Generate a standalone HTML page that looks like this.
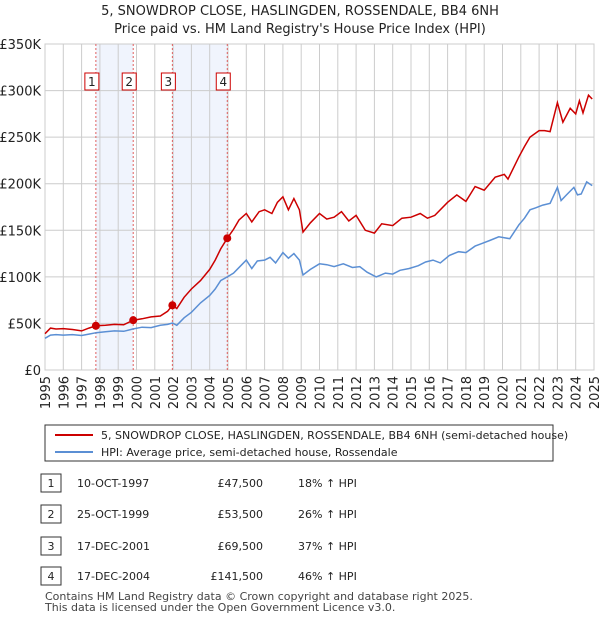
<!DOCTYPE html>
<html><head><meta charset="utf-8"><style>
body{margin:0;background:#fff;font-family:"Liberation Sans","DejaVu Sans",sans-serif;}
svg text{font-family:"DejaVu Sans","Liberation Sans",sans-serif;}
</style></head><body>
<svg id="c" width="600" height="620" viewBox="0 0 600 620" xmlns="http://www.w3.org/2000/svg">
<text x="300" y="15" text-anchor="middle" font-size="13" fill="#222">5, SNOWDROP CLOSE, HASLINGDEN, ROSSENDALE, BB4 6NH</text>
<text x="300" y="33" text-anchor="middle" font-size="13" fill="#222">Price paid vs. HM Land Registry's House Price Index (HPI)</text>
<g id="plot"></g>
<g>
<rect x="45" y="425" width="508" height="36" fill="#fff" stroke="#333"/>
<line x1="55" y1="435" x2="93" y2="435" stroke="#cc0000" stroke-width="2"/>
<text x="101" y="439" font-size="11" fill="#222">5, SNOWDROP CLOSE, HASLINGDEN, ROSSENDALE, BB4 6NH (semi-detached house)</text>
<line x1="55" y1="452" x2="93" y2="452" stroke="#5b8fd4" stroke-width="2"/>
<text x="101" y="456" font-size="11" fill="#222">HPI: Average price, semi-detached house, Rossendale</text>
</g>
<g id="table" font-size="11" fill="#222"></g>
<text x="45" y="600" font-size="11" fill="#444">Contains HM Land Registry data © Crown copyright and database right 2025.</text>
<text x="45" y="611" font-size="11" fill="#444">This data is licensed under the Open Government Licence v3.0.</text>
</svg>
<script>
const yTicks=[0,50000,100000,150000,200000,250000,300000,350000];
const yTickLabels=["£0","£50K","£100K","£150K","£200K","£250K","£300K","£350K"];
const xYears=[1995,1996,1997,1998,1999,2000,2001,2002,2003,2004,2005,2006,2007,2008,2009,2010,2011,2012,2013,2014,2015,2016,2017,2018,2019,2020,2021,2022,2023,2024,2025];
const saleLabels=["1","2","3","4"];
const saleDates=[1997.78,1999.82,2001.96,2004.96];
const salePrices=[47500,53500,69500,141500];
const saleDateText=["10-OCT-1997","25-OCT-1999","17-DEC-2001","17-DEC-2004"];
const salePriceText=["£47,500","£53,500","£69,500","£141,500"];
const saleHpiText=["18% ↑ HPI","26% ↑ HPI","37% ↑ HPI","46% ↑ HPI"];
const hpiT=[1995,1995.3,1995.6,1996,1996.5,1997,1997.4,1997.8,1998.3,1998.8,1999.3,1999.8,2000.3,2000.8,2001.3,2001.7,2001.96,2002.2,2002.6,2003,2003.5,2004,2004.3,2004.6,2004.96,2005.3,2005.7,2006,2006.3,2006.6,2007,2007.3,2007.6,2008,2008.3,2008.6,2008.9,2009.1,2009.5,2010,2010.4,2010.8,2011.3,2011.8,2012.2,2012.6,2013.1,2013.6,2014,2014.4,2014.9,2015.4,2015.8,2016.2,2016.6,2017.1,2017.6,2018,2018.5,2018.9,2019.3,2019.8,2020.1,2020.4,2020.9,2021.2,2021.5,2021.8,2022.2,2022.6,2023,2023.2,2023.5,2023.9,2024.1,2024.3,2024.6,2024.9];
const hpiV=[34000,37500,38000,37500,38000,37000,38500,40000,41000,42000,41500,44000,46000,45500,48000,49000,50500,48000,56000,62000,72000,80000,87000,96000,100000,104000,112000,118000,109000,117000,118000,121000,115000,126000,120000,125000,118000,102000,108000,114000,113000,111000,114000,110000,111000,105000,100000,104000,103000,107000,109000,112000,116000,118000,115000,123000,127000,126000,133000,136000,139000,143000,142000,141000,156000,163000,172000,174000,177000,179000,196000,182000,188000,196000,188000,189000,202000,198000];
const redT=[1995,1995.3,1995.6,1996,1996.5,1997,1997.4,1997.78,1998.3,1998.8,1999.3,1999.82,2000.3,2000.8,2001.3,2001.7,2001.96,2002.2,2002.6,2003,2003.5,2004,2004.3,2004.6,2004.96,2005.3,2005.6,2006,2006.3,2006.7,2007,2007.4,2007.7,2008,2008.3,2008.6,2008.9,2009.1,2009.5,2010,2010.4,2010.8,2011.2,2011.6,2012,2012.5,2013,2013.4,2014,2014.5,2015,2015.5,2015.9,2016.3,2017,2017.5,2018,2018.5,2019,2019.6,2020.1,2020.3,2020.9,2021.2,2021.5,2022,2022.3,2022.6,2023,2023.3,2023.7,2024,2024.2,2024.4,2024.7,2024.9];
const redV=[39000,45000,44000,44500,43500,42000,45000,47500,48000,49000,48500,53500,55000,57000,58000,63000,69500,66000,78000,87000,96000,108000,118000,130000,141500,151000,161000,168000,159000,170000,172000,168000,180000,186000,172000,184000,172000,148000,158000,168000,162000,164000,170000,160000,166000,150000,147000,157000,155000,163000,164000,168000,163000,166000,180000,188000,181000,197000,193000,207000,210000,205000,229000,240000,250000,257000,257000,256000,287000,266000,281000,275000,289000,276000,295000,291000];

const NS="http://www.w3.org/2000/svg";
const L=45,R=594,T=44,B=370;
const xs=t=>L+(t-1995)/30*(R-L);
const ys=v=>B-v/350000*(B-T);
const plot=document.getElementById('plot');
function mk(tag,attrs,parent){const e=document.createElementNS(NS,tag);for(const k in attrs)e.setAttribute(k,attrs[k]);(parent||plot).appendChild(e);return e;}
for(let i=0;i<4;i+=2){const r=mk('rect',{x:xs(saleDates[i]),y:T,width:xs(saleDates[i+1])-xs(saleDates[i]),height:B-T,fill:'#f0f4fd'});

}
yTicks.forEach((v,i)=>{const g=mk('line',{x1:L,x2:R,y1:ys(v),y2:ys(v),stroke:'#cccccc'});


const t=mk('text',{x:L-4,y:ys(v)+5,'text-anchor':'end','font-size':13,fill:'#222'});t.textContent=yTickLabels[i];

});
xYears.forEach(y=>{const g=mk('line',{x1:xs(y),x2:xs(y),y1:T,y2:B,stroke:'#cccccc'});


const t=mk('text',{x:0,y:0,'text-anchor':'end','font-size':13,fill:'#222',transform:`translate(${xs(y)+5},${B+6}) rotate(-90)`});t.textContent=y;

});
mk('rect',{x:L,y:T,width:R-L,height:B-T,fill:'none',stroke:'#cccccc'});
saleDates.forEach((d,i)=>{const l=mk('line',{x1:xs(d),x2:xs(d),y1:T,y2:B,stroke:'#e06060','stroke-dasharray':'2,2'});


const r=mk('rect',{x:xs(d)-11,y:73,width:14,height:17,fill:'#fff',stroke:'#cc0000'});


const t=mk('text',{x:xs(d)-4,y:86,'text-anchor':'middle','font-size':12,fill:'#222'});t.textContent=saleLabels[i];

});
const path=(T_,V)=>T_.map((t,i)=>(i?'L':'M')+xs(t).toFixed(1)+','+ys(V[i]).toFixed(1)).join('');
const hl=mk('path',{d:path(hpiT,hpiV),fill:'none',stroke:'#5b8fd4','stroke-width':1.5});


const rl=mk('path',{d:path(redT,redV),fill:'none',stroke:'#cc0000','stroke-width':1.5});


saleDates.forEach((d,i)=>{const c=mk('circle',{cx:xs(d),cy:ys(salePrices[i]),r:4,fill:'#cc0000'});

});
const tb=document.getElementById('table');
const rowY=[483,514,546,576];
saleLabels.forEach((s,i)=>{const y=rowY[i];
const r=mk('rect',{x:41,y:y-9,width:20,height:18,fill:'#fff',stroke:'#333'},tb);


const cells=[[51,'middle',s],[77,'start',saleDateText[i]],[263,'end',salePriceText[i]],[298,'start',saleHpiText[i]]];
cells.forEach(c=>{const t=mk('text',{x:c[0],y:y+4,'text-anchor':c[1]},tb);t.textContent=c[2];

});});
</script>
</body></html>
